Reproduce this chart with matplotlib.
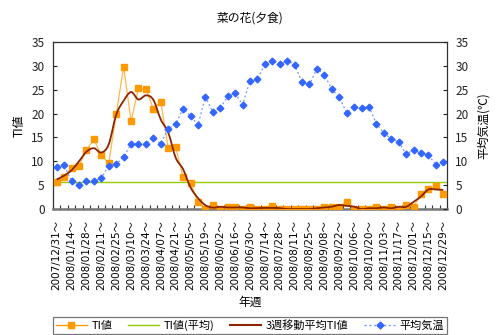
import numpy as np
import pandas as pd
import matplotlib
matplotlib.use("Agg")
import matplotlib.pyplot as plt
from matplotlib.path import Path
from matplotlib.patches import PathPatch
from matplotlib.lines import Line2D

plt.rcParams['font.family'] = ['Noto Sans CJK JP', 'DejaVu Sans']

# Weekly data, 2007/12/31 - 2008/12/29
weeks = pd.date_range("2007-12-31", "2008-12-29", freq="7D")
week_labels = [d.strftime("%Y/%m/%d") + "～" for d in weeks]

ti_values = [5.7, 6.7, 8.6, 9.1, 12.3, 14.6, 11.3, 9.6, 19.8, 29.8,
             18.4, 25.3, 25.1, 21.0, 22.5, 12.7, 12.9, 6.7, 5.4, 1.5,
             0.0, 0.9, 0.0, 0.5, 0.5, 0.0, 0.5, 0.0, 0.1, 0.6,
             0.0, 0.0, 0.0, 0.0, 0.0, 0.0, 0.5, 0.5, 0.5, 1.5,
             0.0, 0.0, 0.0, 0.5, 0.0, 0.5, 0.0, 0.9, 0.5, 3.1,
             4.3, 4.9, 3.1]

temperature = [8.8, 9.2, 5.8, 5.0, 5.9, 5.8, 6.5, 9.1, 9.4, 10.9,
               13.6, 13.7, 13.6, 14.8, 13.7, 16.8, 17.8, 21.0, 19.5, 17.6,
               23.5, 20.3, 21.1, 23.6, 24.3, 21.8, 26.9, 27.2, 30.3, 31.1,
               30.3, 31.1, 30.2, 26.6, 26.1, 29.4, 28.1, 25.1, 23.4, 20.2,
               21.3, 21.2, 21.4, 17.9, 15.9, 14.7, 14.1, 11.5, 12.4, 11.7,
               11.4, 9.2, 9.9]

ti = pd.Series(ti_values)
ti_mean = ti.mean()
ti_ma3 = ti.rolling(3, center=True, min_periods=1).mean().to_numpy()
x = np.arange(len(ti_values))

C_TI = "#FF9900"
C_TI_LINE = "#FFB84D"
C_AVG = "#99CC00"
C_MA = "#8B2500"
C_TEMP = "#3366FF"
C_TEMP_LINE = "#6E96FF"

fig = plt.figure(figsize=(5.0, 3.35), dpi=100)
ax = fig.add_axes([0.106, 0.376, 0.788, 0.499])
ax2 = ax.twinx()

ax.set_xlim(-0.5, len(x) - 0.5)
ax.set_ylim(0, 35)
ax2.set_ylim(0, 35)

# average line across the plot
ax.axhline(ti_mean, color=C_AVG, lw=1.0, zorder=2)

# TI values
ax.plot(x, ti_values, color=C_TI_LINE, lw=0.9, zorder=3)
ax.plot(x, ti_values, ls="none", marker="s", ms=4.0, color=C_TI, zorder=4)


# smoothed 3-week moving average (Catmull-Rom as cubic Bezier)
def smooth_path(xs, ys, t=1.0 / 6):
    pts = np.column_stack([xs, ys])
    verts = [pts[0]]
    codes = [Path.MOVETO]
    n = len(pts)
    for i in range(n - 1):
        p0 = pts[i - 1] if i > 0 else pts[i]
        p1 = pts[i]
        p2 = pts[i + 1]
        p3 = pts[i + 2] if i + 2 < n else pts[i + 1]
        c1 = p1 + (p2 - p0) * t
        c2 = p2 - (p3 - p1) * t
        verts += [c1, c2, p2]
        codes += [Path.CURVE4] * 3
    return Path(verts, codes)


ax.add_patch(PathPatch(smooth_path(x, ti_ma3), fill=False, edgecolor=C_MA,
                       lw=1.3, zorder=5))

# temperature on the secondary axis
ax2.plot(x, temperature, color=C_TEMP_LINE, lw=0.9, ls=(0, (1.5, 2.0)), zorder=3)
ax2.plot(x, temperature, ls="none", marker="D", ms=3.4, color=C_TEMP, zorder=4)

# axes styling
ticks = np.arange(0, 36, 5)
ax.set_yticks(ticks)
ax2.set_yticks(ticks)
ax.tick_params(axis="y", direction="in", length=3, labelsize=8.5, colors="#222222",
               pad=6)
ax2.tick_params(axis="y", direction="in", length=3, labelsize=8.5, colors="#222222",
                pad=6)

ax.set_xticks(x[::2])
ax.set_xticklabels(week_labels[::2], rotation=90, fontsize=7.5,
                   family=['DejaVu Sans', 'Noto Sans CJK JP'])
ax.set_xticks(np.arange(-0.5, len(x), 1.0), minor=True)
ax.tick_params(axis="x", which="major", length=0, pad=8)
ax.tick_params(axis="x", which="minor", direction="in", length=3, width=0.8,
               colors="#333333")

for s in ("left", "right", "top"):
    ax.spines[s].set_color("#333333")
    ax.spines[s].set_linewidth(0.9)
for s in ("left", "right", "top", "bottom"):
    ax2.spines[s].set_visible(False)
ax.spines["bottom"].set_color("#777777")
ax.spines["bottom"].set_linewidth(1.8)

ax.set_ylabel("TI値", fontsize=8.5, labelpad=4)
ax2.set_ylabel("平均気温(℃)", fontsize=8.5, labelpad=6)
ax.set_xlabel("年週", fontsize=8.5, labelpad=4)
fig.text(0.5, 0.946, "菜の花(夕食)", ha="center", va="center", fontsize=8.5)

handles = [
    Line2D([], [], color=C_TI, lw=1.0, marker="s", ms=4),
    Line2D([], [], color=C_AVG, lw=1.0),
    Line2D([], [], color=C_MA, lw=1.5),
    Line2D([], [], color=C_TEMP_LINE, lw=1.0, ls=(0, (1.5, 2.0)), marker="D",
           ms=3.5, mfc=C_TEMP, mec=C_TEMP),
]
labels = ["TI値", "TI値(平均)", "3週移動平均TI値", "平均気温"]
leg = fig.legend(handles, labels, loc="lower left",
                 bbox_to_anchor=(0.106, 0.004, 0.788, 0.055), mode="expand",
                 ncol=4, fontsize=8, frameon=True, fancybox=False,
                 handlelength=2.8, borderpad=0.25, borderaxespad=0,
                 handletextpad=0.4)
leg.get_frame().set_edgecolor("#555555")
leg.get_frame().set_linewidth(0.9)

fig.savefig("out.png", dpi=100)
